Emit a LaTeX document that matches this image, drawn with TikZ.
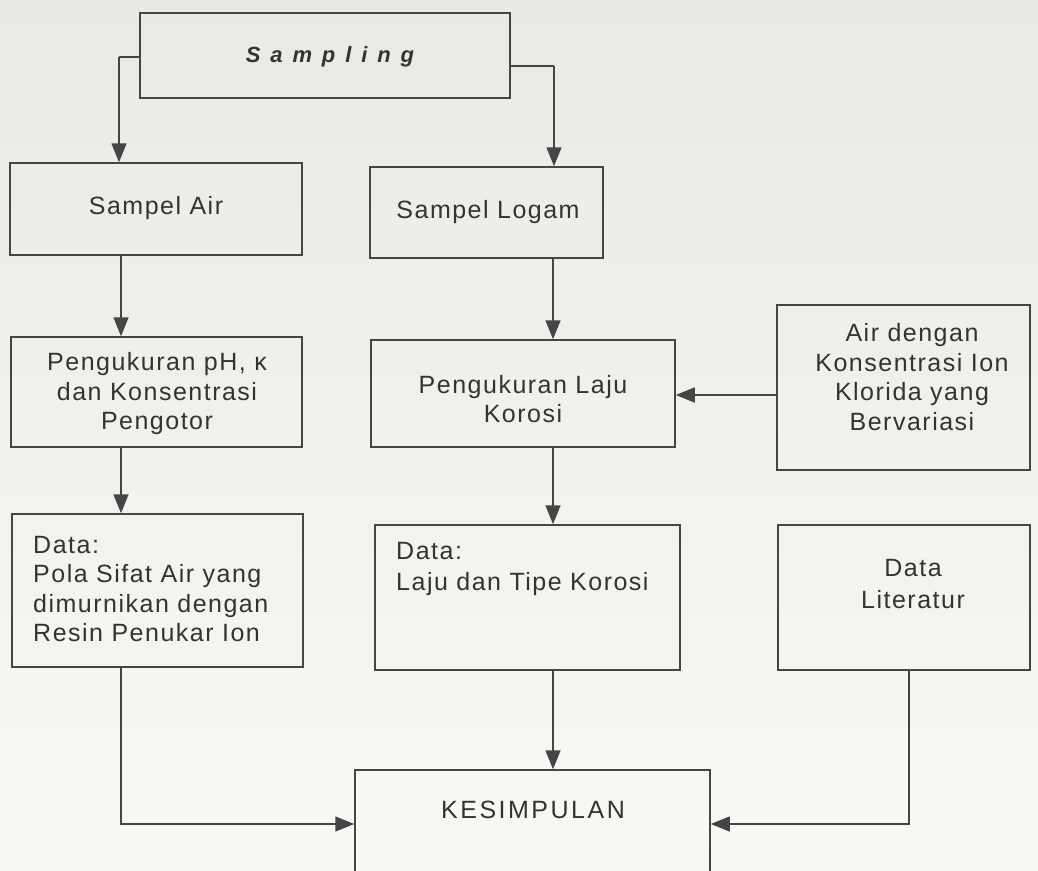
\documentclass[tikz,border=0pt]{standalone}
\usepackage{fontspec}
\setmainfont{Liberation Sans}
\newfontfamily\trackfont[LetterSpace=6]{Liberation Sans}
\newfontfamily\sampfont[LetterSpace=45]{Liberation Sans}
\newfontfamily\kesfont[LetterSpace=10]{Liberation Sans}
\usetikzlibrary{arrows.meta,calc}
\definecolor{ink}{HTML}{333333}
\definecolor{lin}{HTML}{454545}
\definecolor{bgtop}{HTML}{E9E9E5}
\definecolor{bgbot}{HTML}{F8F8F5}
\begin{document}
\begin{tikzpicture}[x=1pt,y=-1pt,
  box/.style={draw=lin, line width=1.5pt, rectangle, inner sep=0pt},
  txt/.style={text=ink, font=\trackfont\fontsize{25}{29.5}\selectfont, align=center, inner sep=0pt},
  ln/.style={draw=lin, line width=1.5pt},
  arr/.style={draw=lin, line width=1.5pt, -{Triangle[length=19pt,width=15pt]}}]
\useasboundingbox (0,0) rectangle (1038,870);
\clip (0,0) rectangle (1038,870);
\shade[top color=bgtop, bottom color=bgbot] (0,0) rectangle (1038,870);

% boxes
\node[box, minimum width=370pt, minimum height=85pt] (b-samp) at (325,55.5) {};
\node[box, minimum width=292pt, minimum height=92pt] (b-air) at (156,209) {};
\node[box, minimum width=233pt, minimum height=91pt] (b-logam) at (486.5,212.5) {};
\node[box, minimum width=291pt, minimum height=110pt] (b-ph) at (156.5,392) {};
\node[box, minimum width=304pt, minimum height=107pt] (b-laju) at (523,393.5) {};
\node[box, minimum width=253pt, minimum height=165pt] (b-klor) at (903.5,387.5) {};
\node[box, minimum width=291pt, minimum height=153pt] (b-datA) at (157.5,590.5) {};
\node[box, minimum width=305pt, minimum height=145pt] (b-datL) at (527.5,597.5) {};
\node[box, minimum width=252pt, minimum height=145pt] (b-lit) at (904,597.5) {};
\node[box, minimum width=355pt, minimum height=120pt] (b-kes) at (532.5,830) {};

% texts
\node[txt, font=\sampfont\bfseries\itshape\fontsize{22}{26}\selectfont] (t-samp) at (330,57) {Sampling};
\node[txt] (t-air) at (156,208) {Sampel Air};
\node[txt] (t-logam) at (488,212) {Sampel Logam};
\node[txt] (t-ph) at (157,394) {Pengukuran pH, κ\\dan Konsentrasi\\Pengotor};
\node[txt] (t-laju) at (523,399) {Pengukuran Laju\\Korosi};
\node[txt] (t-klor) at (912,377) {Air dengan\\Konsentrasi Ion\\Klorida yang\\Bervariasi};
\node[txt, align=left, anchor=west] (t-datA) at (33,589) {Data:\\Pola Sifat Air yang\\dimurnikan dengan\\Resin Penukar Ion};
\node[txt, align=left, anchor=west] (t-datL) at (396,569) {Data:\\[2pt]Laju dan Tipe Korosi};
\node[txt] (t-lit) at (913,584) {Data\\[2pt]Literatur};
\node[txt, font=\kesfont\fontsize{25}{29.5}\selectfont] (t-kes) at (533,810) {KESIMPULAN};

% helper coordinates
\coordinate (cL) at (121,0);
\coordinate (cR) at (553,0);
\coordinate (cS1) at (119,57);
\coordinate (cS2) at (554,66);
\coordinate (cK) at (0,395);
\coordinate (cB) at (0,824);
\coordinate (cLit) at (909,0);

% connectors
\draw[ln] (b-samp.west |- cS1) -- (cS1);
\draw[arr] (cS1) -- (cS1 |- b-air.north);
\draw[ln] (b-samp.east |- cS2) -- (cS2);
\draw[arr] (cS2) -- (cS2 |- b-logam.north);
\draw[arr] (cL |- b-air.south) -- (cL |- b-ph.north);
\draw[arr] (cL |- b-ph.south) -- (cL |- b-datA.north);
\draw[arr] (cR |- b-logam.south) -- (cR |- b-laju.north);
\draw[arr] (cR |- b-laju.south) -- (cR |- b-datL.north);
\draw[arr] (b-klor.west |- cK) -- (b-laju.east |- cK);
\draw[arr] (cR |- b-datL.south) -- (cR |- b-kes.north);
\draw[arr] (cL |- b-datA.south) |- (b-kes.west |- cB);
\draw[arr] (cLit |- b-lit.south) |- (b-kes.east |- cB);
\end{tikzpicture}
\end{document}
